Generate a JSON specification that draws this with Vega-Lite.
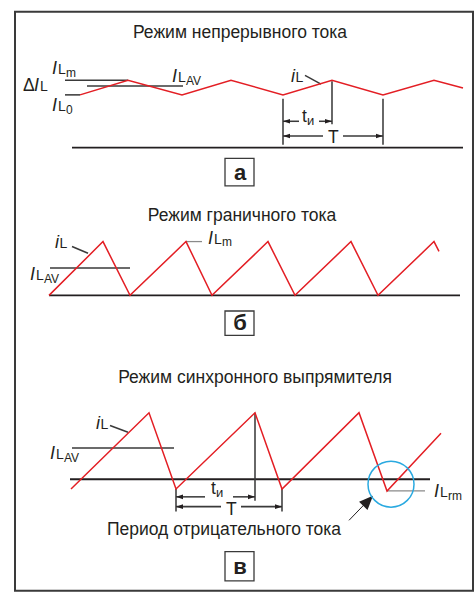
{
  "$schema": "https://vega.github.io/schema/vega-lite/v6.json",
  "width": 475,
  "height": 592,
  "padding": 0,
  "autosize": {"type": "fit", "contains": "padding"},
  "background": "white",
  "config": {"view": {"stroke": null}},
  "datasets": {
    "frame": [{"x0": 15, "x1": 473, "y0": 12, "y1": 604}],
    "boxes": [
      {"x0": 225, "x1": 254, "y0": 162, "y1": 190, "letter": "а", "lx": 240, "ly": 184},
      {"x0": 225, "x1": 254, "y0": 318, "y1": 343, "letter": "б", "lx": 240, "ly": 337},
      {"x0": 225, "x1": 254, "y0": 564, "y1": 594, "letter": "в", "lx": 240, "ly": 587}
    ],
    "red": [
      {"p": "a", "i": 0, "x": 80, "y": 97}, {"p": "a", "i": 1, "x": 128, "y": 82}, {"p": "a", "i": 2, "x": 182, "y": 97},
      {"p": "a", "i": 3, "x": 231, "y": 82}, {"p": "a", "i": 4, "x": 283, "y": 97}, {"p": "a", "i": 5, "x": 332, "y": 82},
      {"p": "a", "i": 6, "x": 383, "y": 97}, {"p": "a", "i": 7, "x": 434, "y": 82}, {"p": "a", "i": 8, "x": 463, "y": 90},
      {"p": "b", "i": 0, "x": 49, "y": 302}, {"p": "b", "i": 1, "x": 103, "y": 247}, {"p": "b", "i": 2, "x": 130, "y": 302},
      {"p": "b", "i": 3, "x": 186, "y": 247}, {"p": "b", "i": 4, "x": 212, "y": 302}, {"p": "b", "i": 5, "x": 268, "y": 247},
      {"p": "b", "i": 6, "x": 295, "y": 302}, {"p": "b", "i": 7, "x": 351, "y": 247}, {"p": "b", "i": 8, "x": 378, "y": 302},
      {"p": "b", "i": 9, "x": 434, "y": 247}, {"p": "b", "i": 10, "x": 439, "y": 257},
      {"p": "c", "i": 0, "x": 71, "y": 500}, {"p": "c", "i": 1, "x": 149, "y": 422}, {"p": "c", "i": 2, "x": 176, "y": 500},
      {"p": "c", "i": 3, "x": 255, "y": 422}, {"p": "c", "i": 4, "x": 282, "y": 500}, {"p": "c", "i": 5, "x": 359, "y": 422},
      {"p": "c", "i": 6, "x": 387, "y": 502}, {"p": "c", "i": 7, "x": 441, "y": 443}
    ],
    "segs": [
      {"k": "thick", "x": 72, "y": 151, "x2": 463, "y2": 151},
      {"k": "thick", "x": 49, "y": 302, "x2": 460, "y2": 302},
      {"k": "thick", "x": 70, "y": 490, "x2": 430, "y2": 490},
      {"k": "thin", "x": 65, "y": 82, "x2": 128, "y2": 82},
      {"k": "thin", "x": 87, "y": 88, "x2": 183, "y2": 88},
      {"k": "thin", "x": 65, "y": 97, "x2": 80, "y2": 97},
      {"k": "thin", "x": 305, "y": 77, "x2": 321, "y2": 86},
      {"k": "thin", "x": 283, "y": 101, "x2": 283, "y2": 148},
      {"k": "thin", "x": 332, "y": 83, "x2": 332, "y2": 127},
      {"k": "thin", "x": 383, "y": 101, "x2": 383, "y2": 148},
      {"k": "thin", "x": 283, "y": 124, "x2": 299, "y2": 124},
      {"k": "thin", "x": 319, "y": 124, "x2": 332, "y2": 124},
      {"k": "thin", "x": 283, "y": 139, "x2": 323, "y2": 139},
      {"k": "thin", "x": 343, "y": 139, "x2": 383, "y2": 139},
      {"k": "thin", "x": 72, "y": 252, "x2": 88, "y2": 259},
      {"k": "thin", "x": 50, "y": 274, "x2": 130, "y2": 274},
      {"k": "gray", "x": 186, "y": 247, "x2": 202, "y2": 247},
      {"k": "thin", "x": 110, "y": 435, "x2": 128, "y2": 442},
      {"k": "thin", "x": 72, "y": 458, "x2": 174, "y2": 458},
      {"k": "gray", "x": 387, "y": 502, "x2": 425, "y2": 502},
      {"k": "thin", "x": 255, "y": 422, "x2": 255, "y2": 512},
      {"k": "thin", "x": 176, "y": 500, "x2": 176, "y2": 523},
      {"k": "thin", "x": 282, "y": 500, "x2": 282, "y2": 523},
      {"k": "thin", "x": 176, "y": 508, "x2": 205, "y2": 508},
      {"k": "thin", "x": 233, "y": 508, "x2": 255, "y2": 508},
      {"k": "thin", "x": 176, "y": 518, "x2": 221, "y2": 518},
      {"k": "thin", "x": 241, "y": 518, "x2": 282, "y2": 518},
      {"k": "arrow", "x": 349, "y": 532, "x2": 366, "y2": 514}
    ],
    "heads": [
      {"d": "left", "x": 283, "y": 124}, {"d": "left", "x": 283, "y": 139},
      {"d": "right", "x": 332, "y": 124}, {"d": "right", "x": 383, "y": 139},
      {"d": "left", "x": 176, "y": 508}, {"d": "left", "x": 176, "y": 518},
      {"d": "right", "x": 255, "y": 508}, {"d": "right", "x": 282, "y": 518}
    ],
    "bigHead": [{"x": 373, "y": 507}],
    "circle": [{"x": 391, "y": 495}],
    "titles": [
      {"x": 240, "y": 39, "t": "Режим непрерывного тока"},
      {"x": 242, "y": 226, "t": "Режим граничного тока"},
      {"x": 255, "y": 392, "t": "Режим синхронного выпрямителя"},
      {"x": 224, "y": 547, "t": "Период отрицательного тока"}
    ],
    "labels": [
      {"r": "I", "x": 52, "y": 76, "t": "I"}, {"r": "L", "x": 58, "y": 76, "t": "L"}, {"r": "s", "x": 66, "y": 79, "t": "m"},
      {"r": "D", "x": 23, "y": 93, "t": "Δ"}, {"r": "I", "x": 34, "y": 93, "t": "I"}, {"r": "L", "x": 40, "y": 93, "t": "L"},
      {"r": "I", "x": 52, "y": 113, "t": "I"}, {"r": "L", "x": 58, "y": 113, "t": "L"}, {"r": "s", "x": 66, "y": 117, "t": "0"},
      {"r": "I", "x": 172, "y": 84, "t": "I"}, {"r": "L", "x": 178, "y": 84, "t": "L"}, {"r": "s", "x": 186, "y": 87, "t": "AV"},
      {"r": "I", "x": 291, "y": 84, "t": "i"}, {"r": "L", "x": 295.5, "y": 84, "t": "L"},
      {"r": "D", "x": 302, "y": 125, "t": "t"}, {"r": "s2", "x": 307, "y": 128, "t": "и"},
      {"r": "D", "x": 328, "y": 146, "t": "T"},
      {"r": "I", "x": 55, "y": 254, "t": "i"}, {"r": "L", "x": 59.5, "y": 254, "t": "L"},
      {"r": "I", "x": 30, "y": 286, "t": "I"}, {"r": "L", "x": 36, "y": 286, "t": "L"}, {"r": "s", "x": 44, "y": 289, "t": "AV"},
      {"r": "I", "x": 208, "y": 249, "t": "I"}, {"r": "L", "x": 214, "y": 249, "t": "L"}, {"r": "s", "x": 222, "y": 252, "t": "m"},
      {"r": "I", "x": 96, "y": 439, "t": "i"}, {"r": "L", "x": 100.5, "y": 439, "t": "L"},
      {"r": "I", "x": 50, "y": 469, "t": "I"}, {"r": "L", "x": 56, "y": 469, "t": "L"}, {"r": "s", "x": 64, "y": 472, "t": "AV"},
      {"r": "I", "x": 434, "y": 508, "t": "I"}, {"r": "L", "x": 440, "y": 508, "t": "L"}, {"r": "s", "x": 448, "y": 511, "t": "rm"},
      {"r": "D", "x": 211, "y": 505, "t": "t"}, {"r": "s2", "x": 216, "y": 508, "t": "и"},
      {"r": "D", "x": 226, "y": 527, "t": "T"}
    ]
  },
  "layer": [
    {
      "data": {"name": "frame"},
      "mark": {"type": "rect", "fillOpacity": 0, "stroke": "#3a3a3a", "strokeWidth": 2},
      "encoding": {
        "x": {"field": "x0", "type": "quantitative", "scale": {"domain": [0, 475], "nice": false, "zero": false}, "axis": null},
        "x2": {"field": "x1"},
        "y": {"field": "y0", "type": "quantitative", "scale": {"domain": [0, 592], "reverse": true, "nice": false, "zero": false}, "axis": null},
        "y2": {"field": "y1"}
      }
    },
    {
      "data": {"name": "boxes"},
      "mark": {"type": "rect", "fill": "white", "stroke": "#3a3a3a", "strokeWidth": 1.3},
      "encoding": {
        "x": {"field": "x0", "type": "quantitative", "scale": {"domain": [0, 475], "nice": false, "zero": false}, "axis": null},
        "x2": {"field": "x1"},
        "y": {"field": "y0", "type": "quantitative", "scale": {"domain": [0, 592], "reverse": true, "nice": false, "zero": false}, "axis": null},
        "y2": {"field": "y1"}
      }
    },
    {
      "data": {"name": "boxes"},
      "mark": {"type": "text", "font": "Liberation Sans Narrow, Liberation Sans", "fontWeight": "bold", "fontSize": 22, "align": "center", "baseline": "alphabetic", "color": "#231f20"},
      "encoding": {
        "x": {"field": "lx", "type": "quantitative", "scale": {"domain": [0, 475], "nice": false, "zero": false}, "axis": null},
        "y": {"field": "ly", "type": "quantitative", "scale": {"domain": [0, 592], "reverse": true, "nice": false, "zero": false}, "axis": null},
        "text": {"field": "letter"}
      }
    },
    {
      "data": {"name": "segs"},
      "mark": {"type": "rule"},
      "encoding": {
        "x": {"field": "x", "type": "quantitative", "scale": {"domain": [0, 475], "nice": false, "zero": false}, "axis": null},
        "x2": {"field": "x2"},
        "y": {"field": "y", "type": "quantitative", "scale": {"domain": [0, 592], "reverse": true, "nice": false, "zero": false}, "axis": null},
        "y2": {"field": "y2"},
        "color": {"field": "k", "type": "nominal", "scale": {"domain": ["thick", "thin", "gray", "arrow"], "range": ["#231f20", "#3a3a3a", "#8a8a8a", "#231f20"]}, "legend": null},
        "strokeWidth": {"field": "k", "type": "nominal", "scale": {"domain": ["thick", "thin", "gray", "arrow"], "range": [1.8, 1, 1.2, 2]}, "legend": null}
      }
    },
    {
      "data": {"name": "red"},
      "mark": {"type": "line", "color": "#e31e24", "strokeWidth": 1.5, "strokeJoin": "miter"},
      "encoding": {
        "x": {"field": "x", "type": "quantitative", "scale": {"domain": [0, 475], "nice": false, "zero": false}, "axis": null},
        "y": {"field": "y", "type": "quantitative", "scale": {"domain": [0, 592], "reverse": true, "nice": false, "zero": false}, "axis": null},
        "detail": {"field": "p"},
        "order": {"field": "i", "type": "quantitative"}
      }
    },
    {
      "data": {"name": "heads"},
      "mark": {"type": "point", "filled": true, "opacity": 1, "size": 196, "color": "#231f20"},
      "encoding": {
        "x": {"field": "x", "type": "quantitative", "scale": {"domain": [0, 475], "nice": false, "zero": false}, "axis": null},
        "y": {"field": "y", "type": "quantitative", "scale": {"domain": [0, 592], "reverse": true, "nice": false, "zero": false}, "axis": null},
        "shape": {"field": "d", "type": "nominal", "scale": {"domain": ["left", "right"], "range": ["M0,0L1,-0.33L1,0.33Z", "M0,0L-1,-0.33L-1,0.33Z"]}, "legend": null}
      }
    },
    {
      "data": {"name": "bigHead"},
      "mark": {"type": "point", "filled": true, "opacity": 1, "size": 784, "shape": "M0,0L-0.42,1L0.42,1Z", "angle": 44, "color": "#231f20"},
      "encoding": {
        "x": {"field": "x", "type": "quantitative", "scale": {"domain": [0, 475], "nice": false, "zero": false}, "axis": null},
        "y": {"field": "y", "type": "quantitative", "scale": {"domain": [0, 592], "reverse": true, "nice": false, "zero": false}, "axis": null}
      }
    },
    {
      "data": {"name": "circle"},
      "mark": {"type": "point", "shape": "circle", "filled": false, "opacity": 1, "size": 2116, "stroke": "#29a9e0", "strokeWidth": 1.5},
      "encoding": {
        "x": {"field": "x", "type": "quantitative", "scale": {"domain": [0, 475], "nice": false, "zero": false}, "axis": null},
        "y": {"field": "y", "type": "quantitative", "scale": {"domain": [0, 592], "reverse": true, "nice": false, "zero": false}, "axis": null}
      }
    },
    {
      "data": {"name": "titles"},
      "mark": {"type": "text", "font": "Liberation Sans", "fontSize": 17.5, "align": "center", "baseline": "alphabetic", "color": "#231f20"},
      "encoding": {
        "x": {"field": "x", "type": "quantitative", "scale": {"domain": [0, 475], "nice": false, "zero": false}, "axis": null},
        "y": {"field": "y", "type": "quantitative", "scale": {"domain": [0, 592], "reverse": true, "nice": false, "zero": false}, "axis": null},
        "text": {"field": "t"}
      }
    },
    {
      "data": {"name": "labels"},
      "transform": [{"filter": "datum.r === 'I'"}],
      "mark": {"type": "text", "font": "Liberation Sans", "fontSize": 18, "fontStyle": "italic", "align": "left", "baseline": "alphabetic", "color": "#231f20"},
      "encoding": {
        "x": {"field": "x", "type": "quantitative", "scale": {"domain": [0, 475], "nice": false, "zero": false}, "axis": null},
        "y": {"field": "y", "type": "quantitative", "scale": {"domain": [0, 592], "reverse": true, "nice": false, "zero": false}, "axis": null},
        "text": {"field": "t"}
      }
    },
    {
      "data": {"name": "labels"},
      "transform": [{"filter": "datum.r === 'L'"}],
      "mark": {"type": "text", "font": "Liberation Sans", "fontSize": 14, "align": "left", "baseline": "alphabetic", "color": "#231f20"},
      "encoding": {
        "x": {"field": "x", "type": "quantitative", "scale": {"domain": [0, 475], "nice": false, "zero": false}, "axis": null},
        "y": {"field": "y", "type": "quantitative", "scale": {"domain": [0, 592], "reverse": true, "nice": false, "zero": false}, "axis": null},
        "text": {"field": "t"}
      }
    },
    {
      "data": {"name": "labels"},
      "transform": [{"filter": "datum.r === 's'"}],
      "mark": {"type": "text", "font": "Liberation Sans", "fontSize": 12, "align": "left", "baseline": "alphabetic", "color": "#231f20"},
      "encoding": {
        "x": {"field": "x", "type": "quantitative", "scale": {"domain": [0, 475], "nice": false, "zero": false}, "axis": null},
        "y": {"field": "y", "type": "quantitative", "scale": {"domain": [0, 592], "reverse": true, "nice": false, "zero": false}, "axis": null},
        "text": {"field": "t"}
      }
    },
    {
      "data": {"name": "labels"},
      "transform": [{"filter": "datum.r === 's2'"}],
      "mark": {"type": "text", "font": "Liberation Sans", "fontSize": 13, "align": "left", "baseline": "alphabetic", "color": "#231f20"},
      "encoding": {
        "x": {"field": "x", "type": "quantitative", "scale": {"domain": [0, 475], "nice": false, "zero": false}, "axis": null},
        "y": {"field": "y", "type": "quantitative", "scale": {"domain": [0, 592], "reverse": true, "nice": false, "zero": false}, "axis": null},
        "text": {"field": "t"}
      }
    },
    {
      "data": {"name": "labels"},
      "transform": [{"filter": "datum.r === 'D'"}],
      "mark": {"type": "text", "font": "Liberation Sans", "fontSize": 17.5, "align": "left", "baseline": "alphabetic", "color": "#231f20"},
      "encoding": {
        "x": {"field": "x", "type": "quantitative", "scale": {"domain": [0, 475], "nice": false, "zero": false}, "axis": null},
        "y": {"field": "y", "type": "quantitative", "scale": {"domain": [0, 592], "reverse": true, "nice": false, "zero": false}, "axis": null},
        "text": {"field": "t"}
      }
    }
  ]
}
